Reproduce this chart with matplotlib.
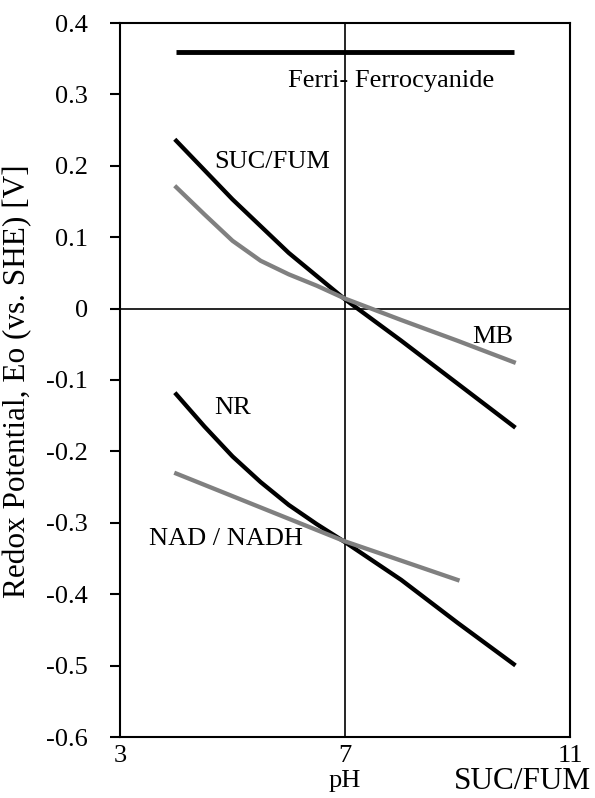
import matplotlib
matplotlib.use("Agg")
import matplotlib.pyplot as plt

plt.rcParams['font.family'] = ['Liberation Serif', 'DejaVu Serif']

# pH values and redox potentials (V vs. SHE)
ferri_x = [4, 5, 6, 7, 8, 9, 10]
ferri_y = [0.36, 0.36, 0.36, 0.36, 0.36, 0.36, 0.36]

suc_x = [4, 5, 6, 7, 8, 9, 10]
suc_y = [0.235, 0.153, 0.078, 0.013, -0.045, -0.105, -0.165]

mb_x = [4, 4.5, 5, 5.5, 6, 6.5, 7, 8, 9, 10]
mb_y = [0.17, 0.132, 0.095, 0.067, 0.048, 0.032, 0.014, -0.016, -0.045, -0.075]

nr_x = [4, 4.5, 5, 5.5, 6, 6.5, 7, 8, 9, 10]
nr_y = [-0.12, -0.165, -0.207, -0.243, -0.275, -0.302, -0.327, -0.38, -0.44, -0.498]

nad_x = [4, 7, 9]
nad_y = [-0.231, -0.326, -0.38]

x_ticks = [3, 7, 11]
y_ticks = [-0.6, -0.5, -0.4, -0.3, -0.2, -0.1, 0, 0.1, 0.2, 0.3, 0.4]
y_tick_labels = ['-0.6', '-0.5', '-0.4', '-0.3', '-0.2', '-0.1', '0',
                 '0.1', '0.2', '0.3', '0.4']

fig = plt.figure(figsize=(5.95, 7.98), dpi=100)
ax = fig.add_axes([120 / 595, 61 / 798, 450 / 595, 714 / 798])

gray = '#808080'
ax.plot(ferri_x, ferri_y, color='black', lw=3.5, solid_capstyle='butt')
ax.plot(suc_x, suc_y, color='black', lw=3.1)
ax.plot(mb_x, mb_y, color=gray, lw=3.1)
ax.plot(nr_x, nr_y, color='black', lw=3.1)
ax.plot(nad_x, nad_y, color=gray, lw=3.1)

# axis cross lines
ax.axvline(7, color='black', lw=1.2, zorder=1)
ax.axhline(0, color='black', lw=1.2, zorder=1)

ax.set_xlim(3, 11)
ax.set_ylim(-0.6, 0.4)
ax.set_xticks(x_ticks)
ax.set_xticklabels([str(v) for v in x_ticks])
ax.set_yticks(y_ticks)
ax.set_yticklabels(y_tick_labels)
ax.tick_params(axis='y', direction='out', length=7, width=1.5, pad=16, labelsize=19)
ax.tick_params(axis='x', length=0, pad=6, labelsize=19)
for s in ax.spines.values():
    s.set_linewidth(1.5)

# curve labels
fs = 19
ax.text(5.99, 0.31, 'Ferri- Ferrocyanide', fontsize=fs, va='baseline')
ax.text(4.67, 0.197, 'SUC/FUM', fontsize=fs, va='baseline')
ax.text(9.26, -0.048, 'MB', fontsize=fs, va='baseline')
ax.text(4.67, -0.147, 'NR', fontsize=fs, va='baseline')
ax.text(3.52, -0.331, 'NAD / NADH', fontsize=fs, va='baseline')

fig.text(18 / 595, 1 - 381 / 798, 'Redox Potential, Eo (vs. SHE) [V]',
         rotation=90, ha='center', va='center', fontsize=22.5)
fig.text(345 / 595, 1 - 787 / 798, 'pH', ha='center', va='baseline', fontsize=19)
fig.text(591 / 595, 1 - 789 / 798, 'SUC/FUM', ha='right', va='baseline', fontsize=22.5)

fig.savefig('out.png', dpi=100)
